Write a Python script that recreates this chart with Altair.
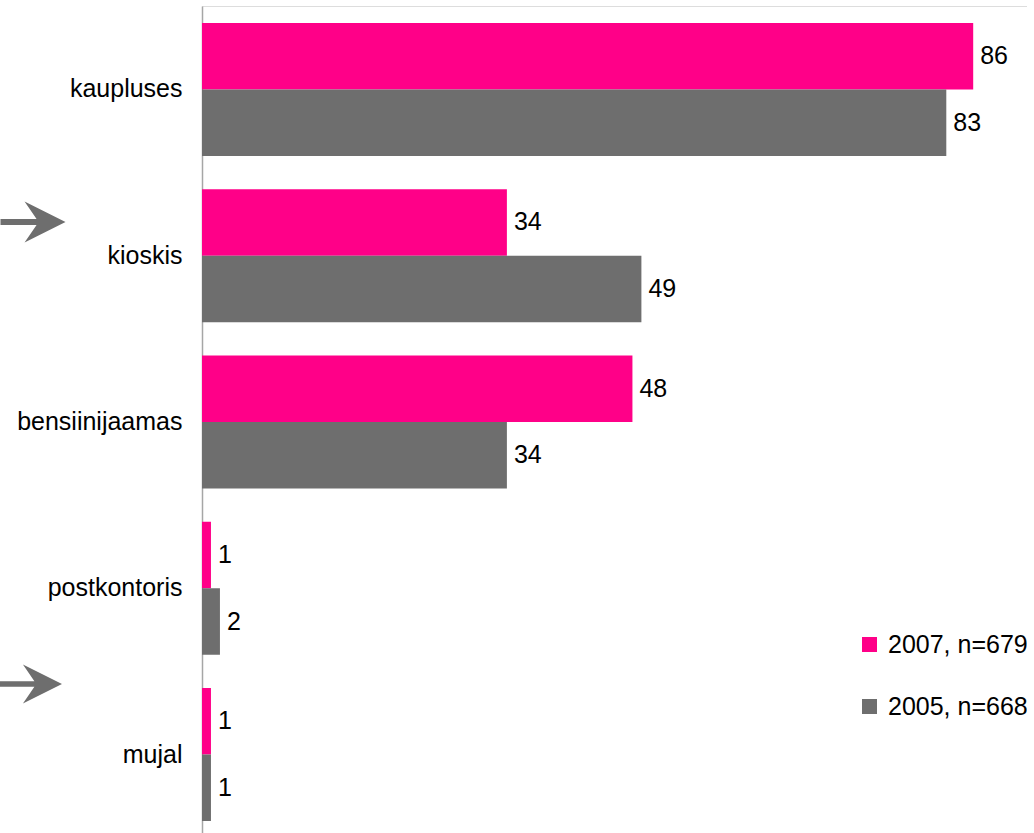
import altair as alt
import pandas as pd

categories = ["kaupluses", "kioskis", "bensiinijaamas", "postkontoris", "mujal"]
series = ["2007, n=679", "2005, n=668"]
values_2007 = [86, 34, 48, 1, 1]
values_2005 = [83, 49, 34, 2, 1]
colors = ["#ff0088", "#6e6e6e"]

rows = []
for c, v7, v5 in zip(categories, values_2007, values_2005):
    rows.append({"cat": c, "series": series[0], "value": v7})
    rows.append({"cat": c, "series": series[1], "value": v5})
df = pd.DataFrame(rows)

arrow_path = "M -1 -0.09 L 0.11 -0.09 L -0.26 -0.63 L 1 0 L -0.26 0.63 L 0.11 0.09 L -1 0.09 Z"

y_enc = alt.Y("cat:N", sort=categories, title=None,
              scale=alt.Scale(paddingInner=0.2, paddingOuter=0.087, align=0.586),
              axis=alt.Axis(labelFontSize=25, labelColor="#000000", labelPadding=20,
                            ticks=False, domainColor="#a6a6a6", domainWidth=1.5,
                            labelFont="Liberation Sans"))
yoff = alt.YOffset("series:N", sort=series,
                   scale=alt.Scale(domain=series, paddingInner=0, paddingOuter=0))
x_enc = alt.X("value:Q", scale=alt.Scale(domain=[0, 92], nice=False), axis=None)

base = alt.Chart(df)
bars = base.mark_bar().encode(
    y=y_enc, yOffset=yoff, x=x_enc,
    color=alt.Color("series:N", sort=series,
                    scale=alt.Scale(domain=series, range=colors),
                    legend=alt.Legend(title=None, orient="none", legendX=655, legendY=626,
                                      symbolType="square", symbolSize=225,
                                      labelFontSize=25, labelFont="Liberation Sans",
                                      labelColor="#000000", labelOffset=6,
                                      rowPadding=36, symbolStrokeWidth=0)),
)
labels = base.mark_text(align="left", baseline="middle", dx=7, fontSize=25,
                        font="Liberation Sans", color="#000000").encode(
    y=alt.Y("cat:N", sort=categories), yOffset=yoff, x=x_enc,
    text=alt.Text("value:Q"),
)

arrows_df = pd.DataFrame({"k": ["a1"]})
arrow1 = alt.Chart(arrows_df).mark_point(shape=arrow_path, filled=True, color="#6e6e6e",
                                         opacity=1, size=4225, strokeWidth=0).encode(
    x=alt.value(-169), y=alt.value(216))
arrow2 = alt.Chart(arrows_df).mark_point(shape=arrow_path, filled=True, color="#6e6e6e",
                                         opacity=1, size=3844, strokeWidth=0).encode(
    x=alt.value(-171), y=alt.value(678))

chart = alt.layer(bars, labels, arrow1, arrow2).properties(
    width=825, height=827,
    autosize=alt.AutoSizeParams(type="none"),
    padding={"left": 202, "top": 6, "right": 0, "bottom": 0},
).configure_view(stroke=None).configure(font="Liberation Sans")

chart.save("out.html", embed_options={"renderer": "svg", "actions": False})
